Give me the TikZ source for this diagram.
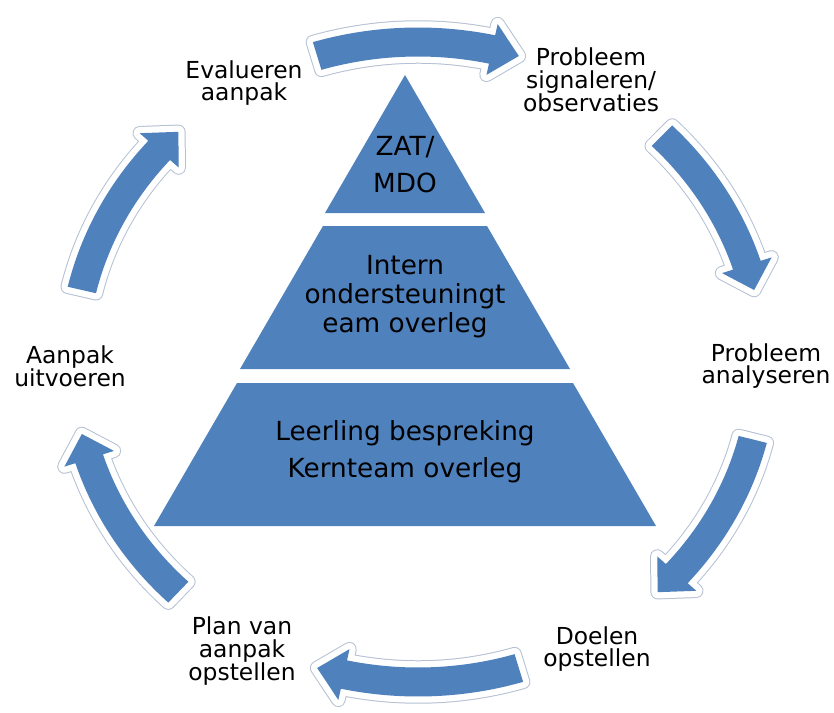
\documentclass[tikz,border=0pt]{standalone}
\usepackage{fontspec}
\setmainfont{DejaVu Sans}
\definecolor{accent}{HTML}{4F81BD}
\definecolor{rimgrey}{HTML}{B4C0D2}
\tikzset{
  cyc/.style={fill=accent,
    preaction={draw=rimgrey,line width=14.5,line join=round},
    preaction={draw=white,line width=12.5,line join=round}},
  tier/.style={fill=accent},
  lbl/.style={align=center,font={\fontsize{23.5}{23}\selectfont},text=black,inner sep=0pt},
  ptxt/.style={align=center,text=black,inner sep=0pt}
}
\newcommand\cycarrow[2]{%
  \pgfmathsetmacro\arA{#1}%
  \pgfmathsetmacro\arB{#2+4.6}%
  \pgfmathsetmacro\arT{#2}%
  \path[cyc]
    plot[domain=0:1,samples=40]({418+359.5*cos(\arA+(\arB-\arA)*\x)},{362-334.5*sin(\arA+(\arB-\arA)*\x)})
    -- ({418+371*cos(\arB)},{362-346*sin(\arB)})
    -- ({418+345*cos(\arT)},{362-320*sin(\arT)})
    -- ({418+319*cos(\arB)},{362-294*sin(\arB)})
    -- plot[domain=0:1,samples=40]({418+330.5*cos(\arB+(\arA-\arB)*\x)},{362-305.5*sin(\arB+(\arA-\arB)*\x)})
    -- cycle;}
\begin{document}
\begin{tikzpicture}[x=1bp,y=-1bp]
\useasboundingbox (0,0) rectangle (834,713);
% cycle arrows
\cycarrow{107}{73}
\cycarrow{45}{13}
\cycarrow{-14}{-46}
\cycarrow{-73}{-107}
\cycarrow{-134}{-167}
\cycarrow{167}{134}
% pyramid
\fill[tier] (405,75) -- (485,213) -- (325,213) -- cycle;
\fill[tier] (323,226) -- (487,226) -- (570,369) -- (240,369) -- cycle;
\fill[tier] (237,383) -- (573,383) -- (656,526) -- (154,526) -- cycle;
\node[ptxt,font={\fontsize{26.4}{37}\selectfont}] (zat) at (405,165) {ZAT/\\MDO};
\node[ptxt,font={\fontsize{26.4}{29}\selectfont}] (iot) at (405,297) {Intern\\ondersteuningt\\eam overleg};
\node[ptxt,font={\fontsize{26.4}{37}\selectfont}] (lkb) at (405,452) {Leerling bespreking\\Kernteam overleg};
% labels
\node[lbl] (ev) at (244,83) {Evalueren\\aanpak};
\node[lbl] (ps) at (591,80) {Probleem\\signaleren/\\observaties};
\node[lbl] (pa) at (766,366) {Probleem\\analyseren};
\node[lbl] (au) at (70,366) {Aanpak\\uitvoeren};
\node[lbl] (pv) at (242,651) {Plan van\\aanpak\\opstellen};
\node[lbl] (do) at (597,649) {Doelen\\opstellen};
\end{tikzpicture}
\end{document}
